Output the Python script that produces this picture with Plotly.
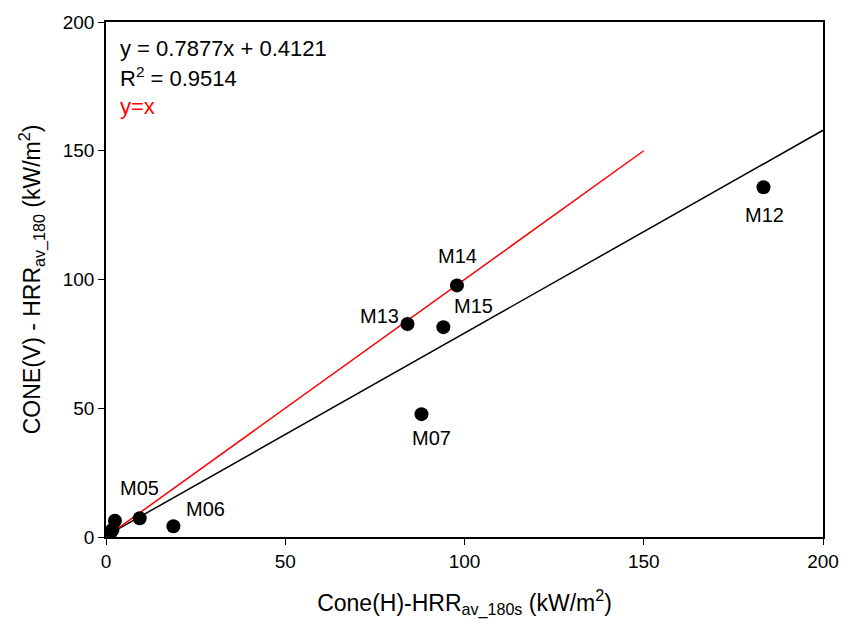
import plotly.graph_objects as go

# Data
pt_x = [0.2, 1.2, 1.8, 2.5, 9.4, 18.8, 88.0, 84.1, 97.9, 94.1, 183.4]
pt_y = [0.2, 1.5, 2.8, 6.3, 7.3, 4.2, 47.7, 82.7, 97.7, 81.5, 135.8]
labels = ["", "", "", "", "M05", "M06", "M07", "M13", "M14", "M15", "M12"]
label_dx = [0, 0, 0, 0, 0, 32, 10, -28, 1, 30, 1]
label_dy = [0, 0, 0, 0, 30, 17, -24, 8, 29, 21, -28]
slope, intercept = 0.7877, 0.4121
fit_x = [0, 200]
idl_x = [0, 150]

font = "Liberation Sans, Arial, sans-serif"
fig = go.Figure()
fig.add_trace(go.Scatter(x=fit_x, y=[slope * v + intercept for v in fit_x], mode="lines",
                         line=dict(color="black", width=1.5), showlegend=False))
fig.add_trace(go.Scatter(x=idl_x, y=idl_x, mode="lines",
                         line=dict(color="red", width=1.5), showlegend=False))
fig.add_trace(go.Scatter(x=pt_x, y=pt_y, mode="markers",
                         marker=dict(color="black", size=14), showlegend=False))

for x, y, t, dx, dy in zip(pt_x, pt_y, labels, label_dx, label_dy):
    if t:
        fig.add_annotation(x=x, y=y, text=t, showarrow=False, xshift=dx, yshift=dy,
                           font=dict(size=20, color="black", family=font))

eq = [("y = 0.7877x + 0.4121", "black"), ("R<sup>2</sup> = 0.9514", "black"), ("y=x", "red")]
for i, (t, c) in enumerate(eq):
    fig.add_annotation(xref="paper", yref="paper", x=0.017, y=1 - (44 + 29 * i - 17) / 520,
                       xanchor="left", yanchor="middle", text=t, showarrow=False,
                       font=dict(size=22, color=c, family=font))

axis_common = dict(showgrid=False, zeroline=False, showline=True, linecolor="black",
                   linewidth=1.5, mirror=True, ticks="outside", ticklen=6, tickcolor="black",
                   tickfont=dict(size=19, color="black", family=font))
fig.update_xaxes(range=[0, 200], tickvals=[0, 50, 100, 150, 200],
                 title=dict(text="Cone(H)-HRR<sub>av_180s</sub> (kW/m<sup>2</sup>)",
                            font=dict(size=23, color="black", family=font), standoff=24),
                 **axis_common)
fig.update_yaxes(range=[0, 200], tickvals=[0, 50, 100, 150, 200],
                 title=dict(text="CONE(V) - HRR<sub>av_180</sub> (kW/m<sup>2</sup>)",
                            font=dict(size=23, color="black", family=font), standoff=16),
                 **axis_common)
fig.update_layout(width=851, height=627, margin=dict(l=106, r=16, t=12, b=90),
                  plot_bgcolor="white", paper_bgcolor="white")
fig.write_html("out.html")
